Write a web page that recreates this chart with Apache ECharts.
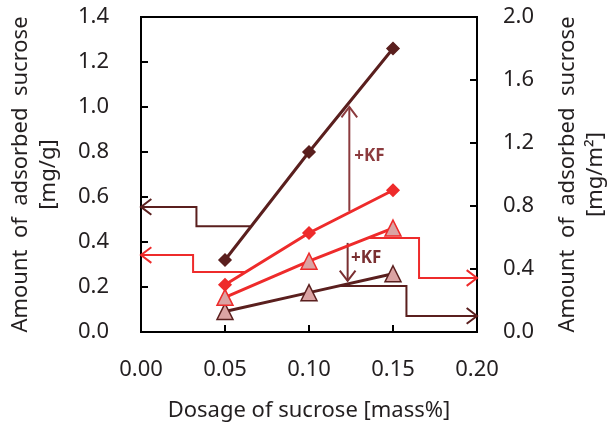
<!DOCTYPE html>
<html>
<head>
<meta charset="utf-8">
<script src="https://cdn.jsdelivr.net/npm/echarts@6/dist/echarts.min.js"></script>
<style>
  html, body { margin: 0; padding: 0; background: #fff; }
  #chart { width: 608px; height: 425px; }
</style>
</head>
<body>
<div id="chart"></div>
<script>
// dosage of sucrose [mass%]
const dosage = [0.05, 0.10, 0.15];

// per mass [mg/g], left axis
const massWithKF = [0.32, 0.80, 1.26];
const massNoKF = [0.21, 0.44, 0.63];

// per area [mg/m2], right axis
const areaNoKF = [0.22, 0.45, 0.66];
const areaWithKF = [0.13, 0.25, 0.37];

// axis guide arrows (x, y in axis units)
const guideMassKF = [[0.065, 0.47], [0.033, 0.47], [0.033, 0.556], [0.0, 0.556]];
const guideMassNo = [[0.062, 0.267], [0.031, 0.267], [0.031, 0.342], [0.0, 0.342]];
const guideAreaNo = [[0.135, 0.597], [0.1655, 0.597], [0.1655, 0.343], [0.2, 0.343]];
const guideAreaKF = [[0.1185, 0.292], [0.158, 0.292], [0.158, 0.102], [0.2, 0.102]];

// +KF arrows, left axis units
const kfUp = [[0.124, 0.538], [0.124, 1.0]];
const kfDown = [[0.123, 0.396], [0.123, 0.227]];

const DARK = "#5a1f1e";
const RED = "#ee2b2b";
const PINK = "#dba3a3";
const KF_UP = "#8c3b3e";
const KF_DOWN = "#7a2f31";
const TEXT = "#231f20";
const FONT = "Noto Sans";
const FS = 22;

const pairs = (ys) => dosage.map((x, i) => [x, ys[i]]);

function arrowSeries(points, color, yAxisIndex, width) {
  return {
    type: "custom",
    yAxisIndex,
    silent: true,
    z: 1,
    data: [[0]],
    renderItem: (params, api) => {
      const pts = points.map((p) => api.coord(p));
      const tip = pts[pts.length - 1];
      const prev = pts[pts.length - 2];
      const ang = Math.atan2(tip[1] - prev[1], tip[0] - prev[0]);
      const len = 13;
      const spread = 0.65;
      const a1 = [tip[0] - len * Math.cos(ang - spread), tip[1] - len * Math.sin(ang - spread)];
      const a2 = [tip[0] - len * Math.cos(ang + spread), tip[1] - len * Math.sin(ang + spread)];
      const style = { stroke: color, lineWidth: width, fill: null };
      return {
        type: "group",
        children: [
          { type: "polyline", shape: { points: pts }, style },
          { type: "polyline", shape: { points: [a1, tip, a2] }, style },
        ],
      };
    },
  };
}

function dataSeries(ys, yAxisIndex, symbol, lineColor, fill, border, size) {
  return {
    type: "line",
    yAxisIndex,
    data: pairs(ys),
    symbol,
    symbolSize: size,
    z: 3,
    lineStyle: { color: lineColor, width: 3 },
    itemStyle: { color: fill, borderColor: border, borderWidth: 1.5 },
  };
}

const axisName = "Amount  of  adsorbed  sucrose";

const chart = echarts.init(document.getElementById("chart"));

chart.setOption({
  animation: false,
  textStyle: { fontFamily: FONT },
  grid: {
    left: 141,
    right: 131,
    top: 17,
    bottom: 93,
    outerBoundsMode: "none",
    show: true,
    borderColor: "#000",
    borderWidth: 2,
    backgroundColor: "transparent",
  },
  xAxis: {
    type: "value",
    min: 0,
    max: 0.2,
    interval: 0.05,
    name: "Dosage of sucrose [mass%]",
    nameLocation: "middle",
    nameGap: 68,
    nameTextStyle: { color: TEXT, fontSize: FS, fontFamily: FONT },
    axisLine: { show: true, lineStyle: { color: "#000", width: 2 } },
    axisTick: { show: true, inside: true, length: 7, lineStyle: { color: "#000", width: 2 } },
    axisLabel: { color: TEXT, fontSize: FS, margin: 27, formatter: (v) => v.toFixed(2) },
    splitLine: { show: false },
  },
  yAxis: [
    {
      type: "value",
      position: "left",
      min: 0,
      max: 1.4,
      interval: 0.2,
      name: axisName + "\n[mg/g]",
      nameLocation: "middle",
      nameGap: 78,
      nameRotate: 90,
      nameTextStyle: { color: TEXT, fontSize: FS, lineHeight: 28, fontFamily: FONT },
      axisLine: { show: true, lineStyle: { color: "#000", width: 2 } },
      axisTick: { show: true, inside: true, length: 7, lineStyle: { color: "#000", width: 2 } },
      axisLabel: { color: TEXT, fontSize: FS, margin: 32, formatter: (v) => v.toFixed(1) },
      splitLine: { show: false },
    },
    {
      type: "value",
      position: "right",
      min: 0,
      max: 2.0,
      interval: 0.4,
      name: axisName + "\n[mg/m²]",
      nameLocation: "middle",
      nameGap: 77,
      nameRotate: 90,
      nameTextStyle: { color: TEXT, fontSize: FS, lineHeight: 28, fontFamily: FONT },
      axisLine: { show: true, lineStyle: { color: "#000", width: 2 } },
      axisTick: { show: true, inside: true, length: 7, lineStyle: { color: "#000", width: 2 } },
      axisLabel: { color: TEXT, fontSize: FS, margin: 26, formatter: (v) => v.toFixed(1) },
      splitLine: { show: false },
    },
  ],
  series: [
    arrowSeries(guideMassKF, DARK, 0, 2),
    arrowSeries(guideMassNo, RED, 0, 2),
    arrowSeries(guideAreaNo, RED, 1, 2),
    arrowSeries(guideAreaKF, DARK, 1, 2),
    arrowSeries(kfUp, KF_UP, 0, 2),
    arrowSeries(kfDown, KF_DOWN, 0, 2),
    dataSeries(areaWithKF, 1, "triangle", DARK, PINK, DARK, 16),
    dataSeries(areaNoKF, 1, "triangle", RED, PINK, RED, 16),
    dataSeries(massNoKF, 0, "diamond", RED, RED, RED, 12),
    dataSeries(massWithKF, 0, "diamond", DARK, DARK, DARK, 12),
  ],
  graphic: [],
});

// +KF labels placed at data positions
function placeLabels() {
  const up = chart.convertToPixel({ xAxisIndex: 0, yAxisIndex: 0 }, [0.127, 0.78]);
  const down = chart.convertToPixel({ xAxisIndex: 0, yAxisIndex: 0 }, [0.125, 0.33]);
  const style = { text: "+KF", fill: KF_DOWN, fontSize: 17, fontWeight: "bold", fontFamily: FONT, verticalAlign: "middle" };
  chart.setOption({
    graphic: [
      { type: "text", x: up[0], y: up[1], style: { ...style, fill: KF_UP } },
      { type: "text", x: down[0], y: down[1], style },
    ],
  });
}
placeLabels();
</script>
</body>
</html>
